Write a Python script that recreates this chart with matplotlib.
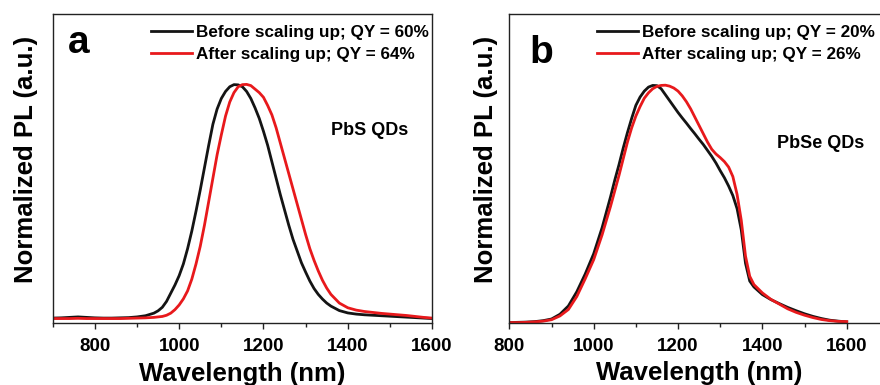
import numpy as np
import matplotlib.pyplot as plt
from matplotlib.ticker import MultipleLocator

plt.rcParams['font.family'] = ['Liberation Sans', 'DejaVu Sans']
plt.rcParams['font.weight'] = 'bold'

# Panel a: PbS QDs (finer steps around the peak)
wl_a = list(range(700, 941, 20)) + list(range(950, 1361, 10)) + list(range(1380, 1601, 20))
pbs_before = [0.004, 0.005, 0.007, 0.009, 0.007, 0.005, 0.004, 0.004, 0.005, 0.006, 0.009, 0.014, 0.025,
              0.035, 0.05, 0.075, 0.11, 0.145, 0.185,
              0.235, 0.30, 0.375, 0.46, 0.55, 0.645, 0.74, 0.83, 0.895, 0.94,
              0.97, 0.99, 0.999, 0.998, 0.99, 0.97, 0.94, 0.90, 0.855, 0.80,
              0.74, 0.67, 0.60, 0.53, 0.465, 0.40, 0.34, 0.29, 0.24, 0.20,
              0.162, 0.13, 0.105, 0.085, 0.068, 0.055,
              0.036, 0.026, 0.021, 0.018, 0.016, 0.014, 0.012, 0.010, 0.008, 0.006, 0.004, 0.002]
pbs_after = [0.002, 0.002, 0.002, 0.003, 0.002, 0.002, 0.002, 0.002, 0.002, 0.003, 0.004, 0.005, 0.007,
             0.009, 0.011, 0.016, 0.025, 0.04, 0.06,
             0.086, 0.12, 0.17, 0.235, 0.31, 0.40, 0.50, 0.60, 0.70, 0.785,
             0.865, 0.925, 0.965, 0.99, 0.999, 1.0, 0.995, 0.98, 0.965, 0.945,
             0.91, 0.87, 0.815, 0.75, 0.685, 0.62, 0.555, 0.49, 0.425, 0.36,
             0.30, 0.25, 0.205, 0.165, 0.132, 0.105,
             0.068, 0.048, 0.038, 0.032, 0.028, 0.024, 0.021, 0.018, 0.015, 0.011, 0.007, 0.004]

# Panel b: PbSe QDs
wl_b = list(range(800, 1041, 20)) + list(range(1050, 1381, 10)) + list(range(1400, 1601, 20))
pbse_before = [0.0, 0.001, 0.002, 0.004, 0.008, 0.015, 0.035, 0.07, 0.13, 0.205, 0.29, 0.40, 0.53,
               0.60, 0.665, 0.735, 0.80, 0.86, 0.915, 0.95, 0.975, 0.992, 0.999,
               0.998, 0.985, 0.96, 0.935, 0.91, 0.885, 0.862, 0.84, 0.817, 0.795,
               0.772, 0.75, 0.725, 0.70, 0.672, 0.64, 0.61, 0.575, 0.535, 0.48,
               0.39, 0.25, 0.175, 0.15,
               0.118, 0.097, 0.08, 0.064, 0.05, 0.037, 0.026, 0.017, 0.01, 0.006, 0.003]
pbse_after = [0.0, 0.0, 0.001, 0.003, 0.006, 0.012, 0.028, 0.055, 0.11, 0.185, 0.265, 0.37, 0.49,
              0.555, 0.62, 0.69, 0.76, 0.82, 0.87, 0.91, 0.945, 0.968, 0.985,
              0.995, 0.999, 1.0, 0.996, 0.988, 0.975, 0.955, 0.93, 0.90, 0.865,
              0.83, 0.795, 0.76, 0.73, 0.71, 0.695, 0.678, 0.655, 0.615, 0.54,
              0.43, 0.28, 0.195, 0.16,
              0.125, 0.098, 0.078, 0.058, 0.043, 0.031, 0.021, 0.013, 0.008, 0.005, 0.004]

labels_a = ['Before scaling up; QY = 60%', 'After scaling up; QY = 64%']
labels_b = ['Before scaling up; QY = 20%', 'After scaling up; QY = 26%']

black = '#141414'
red = '#e8191c'

fig = plt.figure(figsize=(8.8, 3.85), dpi=100)
ax1 = fig.add_axes([0.0599, 0.1610, 0.4311, 0.8026])
ax2 = fig.add_axes([0.5788, 0.1603, 0.4313, 0.8034])


def style(ax, xlim, ylim):
    ax.set_xlim(*xlim)
    ax.set_ylim(*ylim)
    ax.xaxis.set_major_locator(MultipleLocator(200))
    ax.xaxis.set_minor_locator(MultipleLocator(100))
    ax.set_yticks([])
    ax.tick_params(axis='x', which='major', direction='out', length=4.5, width=1,
                   labelsize=13.5, pad=6, color='#222222')
    ax.tick_params(axis='x', which='minor', direction='out', length=3, width=1,
                   color='#222222')
    for s in ax.spines.values():
        s.set_linewidth(1.0)
        s.set_color('#222222')
    for t in ax.get_xticklabels():
        t.set_fontweight('bold')
    ax.set_xlabel('Wavelength (nm)', fontsize=18.5, fontweight='bold')
    ax.set_ylabel('Normalized PL (a.u.)', fontsize=18.5, fontweight='bold')


# panel a
ax1.plot(wl_a, pbs_before, color=black, lw=2.0, label=labels_a[0])
ax1.plot(wl_a, pbs_after, color=red, lw=2.0, label=labels_a[1])
style(ax1, (700, 1600), (-0.017, 1.30))
ax1.xaxis.set_label_coords(0.5, -0.126)
ax1.yaxis.set_label_coords(-0.039, 0.529)
ax1.text(0.041, 0.874, 'a', transform=ax1.transAxes, fontsize=28,
         fontweight='bold', va='baseline')
ax1.text(0.734, 0.607, 'PbS QDs', transform=ax1.transAxes, fontsize=13,
         fontweight='bold', va='baseline')
ax1.legend(loc='upper left', bbox_to_anchor=(0.259, 0.964), frameon=False,
           fontsize=12.3, handlelength=2.4, handletextpad=0.25,
           labelspacing=0.38, borderpad=0, borderaxespad=0)

# panel b
ax2.plot(wl_b, pbse_before, color=black, lw=2.0, label=labels_b[0])
ax2.plot(wl_b, pbse_after, color=red, lw=2.0, label=labels_b[1])
style(ax2, (800, 1700), (-0.003, 1.30))
ax2.xaxis.set_label_coords(0.5, -0.121)
ax2.yaxis.set_label_coords(-0.030, 0.531)
ax2.text(0.0527, 0.841, 'b', transform=ax2.transAxes, fontsize=28,
         fontweight='bold', va='baseline')
ax2.text(0.7046, 0.567, 'PbSe QDs', transform=ax2.transAxes, fontsize=13,
         fontweight='bold', va='baseline')
ax2.legend(loc='upper left', bbox_to_anchor=(0.231, 0.964), frameon=False,
           fontsize=12.3, handlelength=2.4, handletextpad=0.25,
           labelspacing=0.38, borderpad=0, borderaxespad=0)

fig.savefig('out.png', dpi=100)
